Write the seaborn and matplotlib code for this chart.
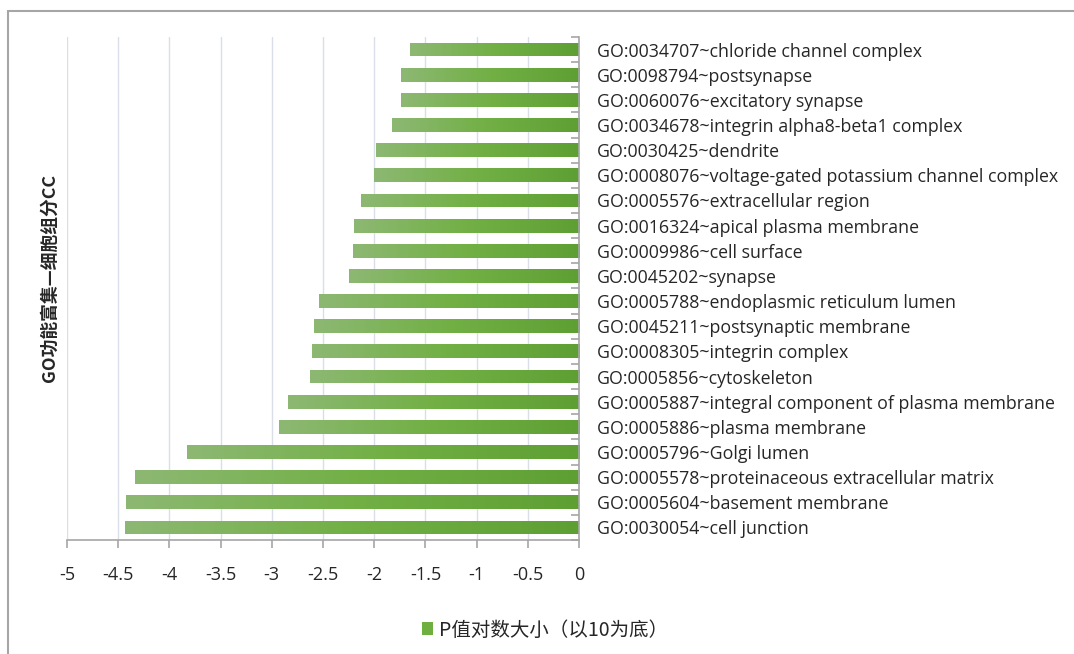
import matplotlib
matplotlib.use("Agg")
import matplotlib.pyplot as plt
import numpy as np
import pandas as pd
import seaborn as sns
from matplotlib.colors import LinearSegmentedColormap
from matplotlib.patches import Patch, Rectangle

terms = [
    "GO:0034707~chloride channel complex",
    "GO:0098794~postsynapse",
    "GO:0060076~excitatory synapse",
    "GO:0034678~integrin alpha8-beta1 complex",
    "GO:0030425~dendrite",
    "GO:0008076~voltage-gated potassium channel complex",
    "GO:0005576~extracellular region",
    "GO:0016324~apical plasma membrane",
    "GO:0009986~cell surface",
    "GO:0045202~synapse",
    "GO:0005788~endoplasmic reticulum lumen",
    "GO:0045211~postsynaptic membrane",
    "GO:0008305~integrin complex",
    "GO:0005856~cytoskeleton",
    "GO:0005887~integral component of plasma membrane",
    "GO:0005886~plasma membrane",
    "GO:0005796~Golgi lumen",
    "GO:0005578~proteinaceous extracellular matrix",
    "GO:0005604~basement membrane",
    "GO:0030054~cell junction",
]
log_p = [-1.65, -1.74, -1.74, -1.83, -1.98, -2.00, -2.13, -2.20, -2.21, -2.25,
         -2.54, -2.59, -2.61, -2.63, -2.84, -2.93, -3.83, -4.34, -4.42, -4.43]
x_ticks = np.arange(-5, 0.01, 0.5)
x_labels = ["-5", "-4.5", "-4", "-3.5", "-3", "-2.5", "-2", "-1.5", "-1", "-0.5", "0"]

df = pd.DataFrame({"term": terms, "logp": log_p})

sns.set_style("white")
plt.rcParams["font.family"] = ["Open Sans", "Noto Sans CJK SC", "DejaVu Sans"]

fig = plt.figure(figsize=(10.74, 6.54), dpi=100)
# outer chart border
fig.patches.append(Rectangle((8 / 1074, -0.05), 1.1, 1 - 11 / 654 + 0.05,
                             transform=fig.transFigure, fill=False,
                             edgecolor="#A6A6A6", linewidth=1.5))
ax = fig.add_axes([67 / 1074, 1 - 540 / 654, 512 / 1074, 503 / 654])

sns.barplot(data=df, x="logp", y="term", orient="h", color="#6EAF40",
            width=0.55, ax=ax)

# gradient fill per bar (light at left, darker at right)
cmap = LinearSegmentedColormap.from_list("g", ["#8DB873", "#72B045", "#5E9F34"])
grad = np.linspace(0, 1, 256).reshape(1, -1)
for bar in ax.patches:
    x0, y0 = bar.get_x(), bar.get_y()
    w, h = bar.get_width(), bar.get_height()
    im = ax.imshow(grad, cmap=cmap, aspect="auto", zorder=3,
                   extent=[min(x0, x0 + w), max(x0, x0 + w), y0 + h, y0])
    im.set_clip_path(bar)
    bar.set_facecolor("none")
    bar.set_edgecolor("none")

ax.set_xlim(-5, 0)
ax.set_ylim(len(terms) - 0.5, -0.5)

ax.set_xticks(x_ticks)
ax.set_xticklabels(x_labels, fontsize=13)
ax.grid(axis="x", color="#D9DEE8", linewidth=1)
ax.set_axisbelow(True)

ax.yaxis.tick_right()
ax.set_yticks(range(len(terms)))
ax.set_yticklabels(terms, fontsize=12.8)
ax.set_yticks(np.arange(-0.5, len(terms), 1), minor=True)
ax.tick_params(axis="y", which="major", length=0, pad=13)
ax.tick_params(axis="y", which="minor", right=True, left=False, length=6,
               direction="in", color="#A6A6A6", width=1.2)
ax.tick_params(axis="x", bottom=True, length=6, direction="out",
               color="#A6A6A6", width=1.2, pad=13)

for s in ["left", "top"]:
    ax.spines[s].set_visible(False)
for s in ["right", "bottom"]:
    ax.spines[s].set_color("#A6A6A6")
    ax.spines[s].set_linewidth(1.2)
    ax.spines[s].set_zorder(4)

ax.set_xlabel("")
ax.set_ylabel("")
fig.text(50 / 1074, 1 - 278 / 654, "GO功能富集—细胞组分CC", rotation=90,
         ha="center", va="center", fontsize=12.8, fontweight="bold",
         family=["Noto Sans CJK SC", "DejaVu Sans"])

handle = Patch(facecolor="#6EAF40", edgecolor="none")
fig.legend([handle], ["P值对数大小（以10为底）"], loc="center",
           bbox_to_anchor=(545 / 1074, 1 - 630 / 654), frameon=False,
           handlelength=0.6, handleheight=0.6, handletextpad=0.3,
           prop={"family": ["Noto Sans CJK SC", "DejaVu Sans"], "size": 14})

fig.savefig("out.png", dpi=100)
